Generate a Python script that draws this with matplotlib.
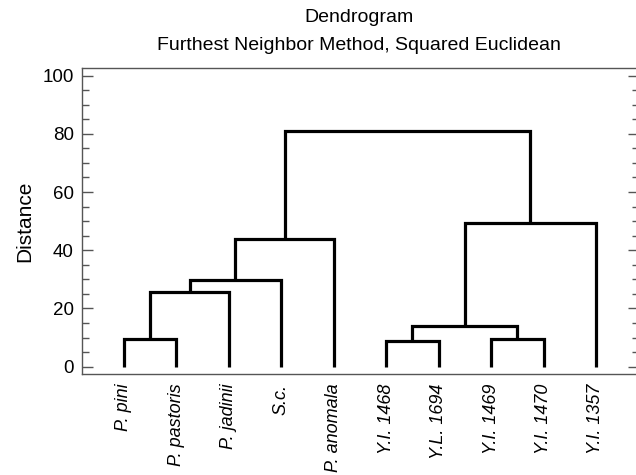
import matplotlib
matplotlib.use("Agg")
import matplotlib.pyplot as plt
from matplotlib.ticker import MultipleLocator

plt.rcParams['font.family'] = ['Liberation Sans', 'DejaVu Sans']

# hojas en el orden del dendrograma
etiquetas = ['P. pini', 'P. pastoris', 'P. jadinii', 'S.c.', 'P. anomala',
             'Y.I. 1468', 'Y.L. 1694', 'Y.I. 1469', 'Y.I. 1470', 'Y.I. 1357']

# uniones: (cluster izq, cluster der, distancia); hojas 0..9, clusters nuevos 10..
uniones = [
    (0, 1, 9.6),
    (10, 2, 25.5),
    (11, 3, 29.8),
    (12, 4, 43.8),
    (5, 6, 8.9),
    (7, 8, 9.6),
    (14, 15, 14.1),
    (16, 9, 49.5),
    (13, 17, 81.0),
]


def dibujar(ax, etiquetas, uniones):
    pos = {i: (i + 1, 0.0) for i in range(len(etiquetas))}
    k = len(etiquetas)
    for a, b, h in uniones:
        xa, ya = pos[a]
        xb, yb = pos[b]
        ax.plot([xa, xa, xb, xb], [ya, h, h, yb], color='black', lw=2.3,
                solid_joinstyle='miter', solid_capstyle='butt')
        pos[k] = ((xa + xb) / 2, h)
        k += 1


fig = plt.figure(figsize=(6.36, 4.75), dpi=100)
ax = fig.add_axes([82 / 636, 1 - 374 / 475, 557 / 636, 306 / 475])

dibujar(ax, etiquetas, uniones)

ax.set_xlim(0.2, 10.82)
ax.set_ylim(-2.5, 102.6)
ax.set_xticks(range(1, len(etiquetas) + 1))
ax.set_xticklabels(etiquetas, rotation=90, fontstyle='italic', fontsize=13)
ax.tick_params(axis='x', length=0, pad=7)

ax.yaxis.set_major_locator(MultipleLocator(20))
ax.yaxis.set_minor_locator(MultipleLocator(5))
ax.tick_params(axis='y', which='both', direction='in', left=True, right=True,
               color='#555555', width=1, labelsize=13.5, pad=6)
ax.tick_params(axis='y', which='major', length=8)
ax.tick_params(axis='y', which='minor', length=5)
for s in ax.spines.values():
    s.set_color('#555555')
    s.set_linewidth(1)

ax.set_ylabel('Distance', fontsize=15, labelpad=6)

fig.text(359 / 636, 1 - 18 / 475, 'Dendrogram', ha='center', va='center', fontsize=14)
fig.text(359 / 636, 1 - 45 / 475, 'Furthest Neighbor Method, Squared Euclidean',
         ha='center', va='center', fontsize=14)

plt.savefig('out.png', dpi=100)
